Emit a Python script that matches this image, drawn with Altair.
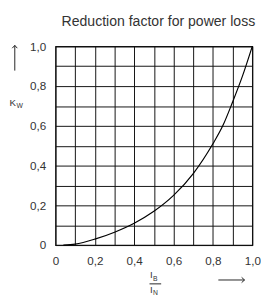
import altair as alt
import pandas as pd

# data
ratio = [0.04, 0.1, 0.2, 0.3, 0.4, 0.5, 0.6, 0.7, 0.8, 0.85, 0.9, 0.95, 1.0]
kw = [0.0, 0.005, 0.03, 0.065, 0.11, 0.17, 0.25, 0.36, 0.51, 0.6, 0.72, 0.85, 1.0]
ticks = [round(i * 0.1, 1) for i in range(11)]
title_text = "Reduction factor for power loss"

df = pd.DataFrame({"x": ratio, "y": kw})

W, H = 203, 205
FONT = "Liberation Sans"
label_expr = ("round(datum.value*10)%2==0 ? (datum.value==0 ? '0' : "
              "replace(format(datum.value, '.1f'), '.', ',')) : ''")

xaxis = alt.Axis(values=ticks, labelExpr=label_expr, title=None, ticks=False,
                 domain=False, grid=True, gridColor="#111", gridOpacity=1,
                 gridWidth=1, labelPadding=11, labelFontSize=12,
                 labelColor="#333", labelFont=FONT, labelFlush=False)
yaxis = alt.Axis(values=ticks, labelExpr=label_expr, title=None, ticks=False,
                 domain=False, grid=True, gridColor="#111", gridOpacity=1,
                 gridWidth=1, labelPadding=10, labelFontSize=12,
                 labelColor="#333", labelFont=FONT, labelFlush=False)

curve = alt.Chart(df).mark_line(color="black", strokeWidth=1.2,
                                interpolate="monotone").encode(
    x=alt.X("x:Q", scale=alt.Scale(domain=[0, 1]), axis=xaxis),
    y=alt.Y("y:Q", scale=alt.Scale(domain=[0, 1]), axis=yaxis),
)

def txt(t, x, y, size=11, align="center", color="#333"):
    return alt.Chart(pd.DataFrame({"t": [t]})).mark_text(
        font=FONT, fontSize=size, color=color, align=align, baseline="middle"
    ).encode(text="t:N", x=alt.value(x), y=alt.value(y))

def hrule(x, x2, y):
    return alt.Chart(pd.DataFrame({"a": [0]})).mark_rule(
        color="#222", strokeWidth=1
    ).encode(x=alt.value(x), x2=alt.value(x2), y=alt.value(y))

def arrow(x, y, length, shape):
    return alt.Chart(pd.DataFrame({"a": [0]})).mark_point(
        shape=shape, filled=False, color="#222", strokeWidth=1,
        size=length * length, opacity=1
    ).encode(x=alt.value(x), y=alt.value(y))

UP = "M0,1L0,-1M-0.2,-0.78L0,-1L0.2,-0.78"
RIGHT = "M-1,0L1,0M0.78,-0.2L1,0L0.78,0.2"

title = txt(title_text, W + 3, -25, size=14.5, align="right")

up_arrow = arrow(-42, 12, 26, UP)
k_label = txt("K", -44, 59, size=10) + txt("W", -37, 62, size=7)

frac = (txt("I", 99, 236, size=10) + txt("B", 103, 240, size=7)
        + hrule(97, 109, 245)
        + txt("I", 99, 251, size=10) + txt("N", 103, 255, size=7))
right_arrow = arrow(181.5, 241, 27, RIGHT)

chart = alt.layer(curve, title, up_arrow, k_label, frac, right_arrow).properties(
    width=W, height=H,
    autosize=alt.AutoSizeParams(type="none"),
    padding={"left": 49, "top": 35, "right": 9, "bottom": 50},
).configure_view(stroke="#111", strokeWidth=1.2)

chart.save("out.html", embed_options={"renderer": "svg", "actions": False})
